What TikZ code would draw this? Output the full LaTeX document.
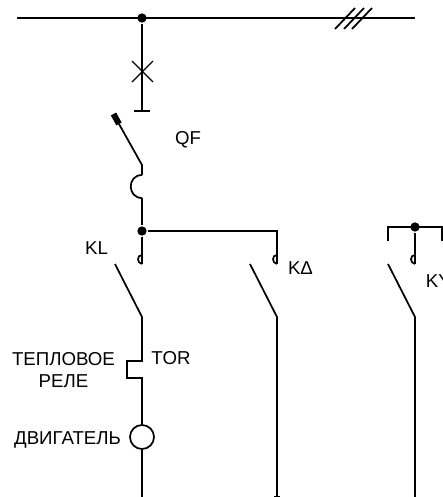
\documentclass[tikz,border=0pt]{standalone}
\usepackage{fontspec}
\setmainfont{Liberation Sans}
\usepackage{xcolor}

\begin{document}
\begin{tikzpicture}[x=0.75pt,y=-0.75pt,line width=1.3pt,
    every node/.style={inner sep=0pt,font=\fontsize{14}{16.5}\selectfont},
    junction/.style={circle,fill=black,draw=none,minimum size=7pt},
    lamp/.style={circle,draw,fill=white,line width=1.3pt,minimum size=18pt},
    blade/.style={line width=4.5pt}]
                \useasboundingbox (0,0) rectangle (443,497);

                % busbar
                \coordinate (BusL) at (17,18);
                \coordinate (BusR) at (415,18);
                \node[junction] (J1) at (142,18) {};
                \draw (BusL) -- (BusR);
                \coordinate (S1a) at (335,29);
                \coordinate (S1b) at (355,8);
                \coordinate (S2a) at (344,29);
                \coordinate (S2b) at (364,8);
                \coordinate (S3a) at (352,29);
                \coordinate (S3b) at (372,8);
                \draw (S1a) -- (S1b);
                \draw (S2a) -- (S2b);
                \draw (S3a) -- (S3b);

                % disconnector with cross
                \coordinate (Stop) at (142,111);
                \coordinate (StopL) at (134,111);
                \coordinate (StopR) at (150,111);
                \coordinate (XA) at (132,61);
                \coordinate (XB) at (153,82);
                \coordinate (XC) at (132,82);
                \coordinate (XD) at (153,61);
                \draw (J1) -- (Stop);
                \draw (StopL) -- (StopR);
                \draw[line width=1pt] (XA) -- (XB);
                \draw[line width=1pt] (XC) -- (XD);

                % QF breaker
                \coordinate (QFtip) at (113.5,114);
                \coordinate (QFgrip) at (119,124);
                \coordinate (QFpivot) at (142,165);
                \coordinate (QFa) at (142,175);
                \coordinate (QFb) at (142,198);
                \node[junction] (J2) at (142,231) {};
                \draw[blade] (QFtip) -- (QFgrip);
                \draw (QFgrip) -- (QFpivot) -- (QFa);
                \draw (QFa) .. controls (127,175) and (127,198) .. (QFb);
                \draw (QFb) -- (J2);
                \node (QF) at (188,140) {QF};

                % KL branch
                \coordinate (KLa) at (142,264);
                \coordinate (KLh) at (142,255);
                \coordinate (KLtip) at (115,264);
                \coordinate (KLp) at (142,317);
                \coordinate (T1) at (142,361);
                \coordinate (T2) at (127,361);
                \coordinate (T3) at (127,378);
                \coordinate (T4) at (142,378);
                \node[lamp] (M) at (142,437) {};
                \coordinate (KLend) at (142,497);
                \draw (J2) -- (KLa);
                \draw (KLh) .. controls (136.7,255) and (136.7,263) .. (KLa);
                \draw (KLtip) -- (KLp) -- (T1) -- (T2) -- (T3) -- (T4) -- (M);
                \draw (M) -- (KLend);
                \node (KL) at (96.5,248) {KL};
                \node (TOR) at (171,358) {TOR};
                \node[align=center] (RELE) at (63.5,370) {ТЕПЛОВОЕ\\РЕЛЕ};
                \node (DV) at (67.5,440) {ДВИГАТЕЛЬ};

                % K delta branch
                \coordinate (KDc) at (277,231);
                \coordinate (KDa) at (277,264);
                \coordinate (KDh) at (277,255);
                \coordinate (KDtip) at (250,264);
                \coordinate (KDp) at (277,317);
                \coordinate (KDend) at (277,497);
                \draw (J2) -- (KDc) -- (KDa);
                \draw (KDh) .. controls (271.7,255) and (271.7,263) .. (KDa);
                \draw (KDtip) -- (KDp) -- (KDend);
                \coordinate (KDfa) at (274,496.5);
                \coordinate (KDfb) at (280,496.5);
                \draw (KDfa) -- (KDfb);
                \node (KD) at (300.5,268) {KΔ};

                % KY branch
                \node[junction] (J3) at (415,227) {};
                \coordinate (KYl) at (388,227);
                \coordinate (KYr) at (442,227);
                \coordinate (KYld) at (388,241);
                \coordinate (KYrd) at (442,241);
                \coordinate (KYa) at (415,264);
                \coordinate (KYh) at (415,255);
                \coordinate (KYtip) at (388,264);
                \coordinate (KYp) at (415,317);
                \coordinate (KYend) at (415,497);
                \draw (KYld) -- (KYl) -- (KYr) -- (KYrd);
                \draw (J3) -- (KYa);
                \draw (KYh) .. controls (409.7,255) and (409.7,263) .. (KYa);
                \draw (KYtip) -- (KYp) -- (KYend);
                \node[anchor=west] (KY) at (425,281) {KY};
            \end{tikzpicture}
\end{document}
